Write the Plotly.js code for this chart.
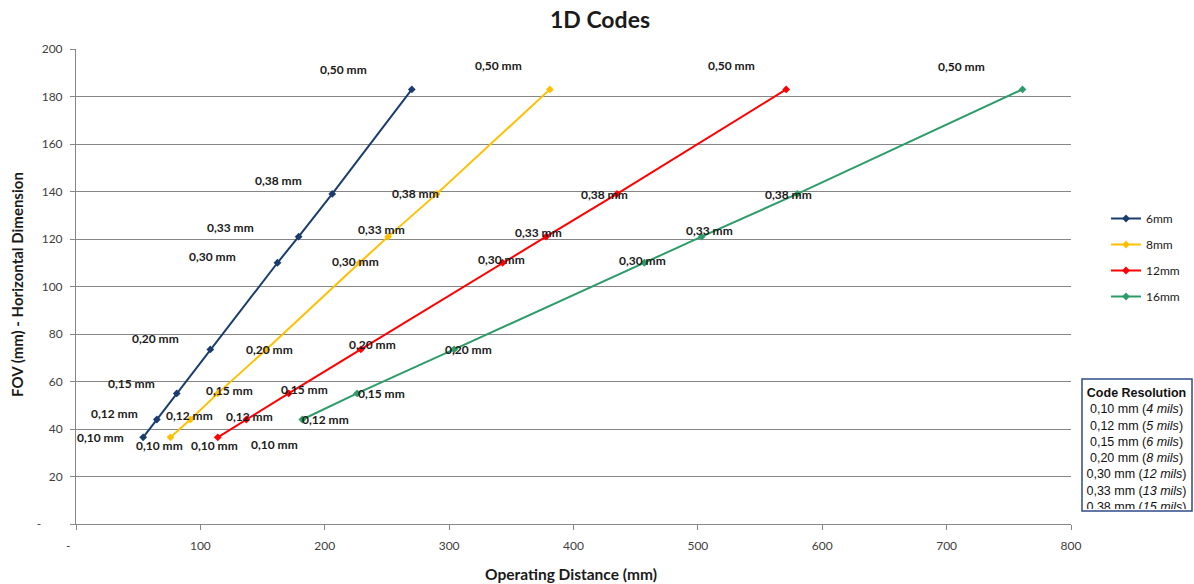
<!DOCTYPE html>
<html>
<head>
<meta charset="utf-8">
<script src="https://cdn.plot.ly/plotly-3.0.1.min.js"></script>
<style>html,body{margin:0;padding:0;background:#fff;}#chart{width:1194px;height:584px;}</style>
</head>
<body>
<div id="chart"></div>
<script>
// ---- data ----
const resolutions = ['0,10 mm','0,12 mm','0,15 mm','0,20 mm','0,30 mm','0,33 mm','0,38 mm','0,50 mm'];
const fov = [36.5, 44, 55, 73.5, 110, 121, 139, 183];
const dist6  = [54, 65, 81, 108, 162, 179, 206, 270];
const dist8  = [76, 92, 114, 153, 228, 251, 290, 381];
const dist12 = [114, 137, 171, 229, 343, 378, 435, 571];
const dist16 = [152, 182, 226, 304, 457, 503, 580, 761];
const seriesNames = ['6mm', '8mm', '12mm', '16mm'];
const xTickVals = [0, 100, 200, 300, 400, 500, 600, 700, 800];
const xTickText = ['-&nbsp;&nbsp;&nbsp;&nbsp;&nbsp;', '100', '200', '300', '400', '500', '600', '700', '800'];
const yTickVals = [0, 20, 40, 60, 80, 100, 120, 140, 160, 180, 200];
const yTickText = ['-&nbsp;&nbsp;&nbsp;&nbsp;&nbsp;&nbsp;&nbsp;', '20', '40', '60', '80', '100', '120', '140', '160', '180', '200'];
const codeResolution = ['0,10 mm (<i>4 mils</i>)', '0,12 mm (<i>5 mils</i>)', '0,15 mm (<i>6 mils</i>)',
  '0,20 mm (<i>8 mils</i>)', '0,30 mm (<i>12 mils</i>)', '0,33 mm (<i>13 mils</i>)', '0,38 mm (<i>15 mils</i>)'];

// ---- styling / placement ----
const colors = ['#1A3D6E', '#FFC000', '#FF0000', '#2E9B6A'];
const firstDrawn = [0, 0, 0, 1]; // 16mm series: the 0,10 mm point is labelled but not drawn
const labelOffsets = [
  [[-43,0],[-42,-6],[-45,-10],[-55,-11],[-65,-6],[-68,-9],[-54,-13],[-68,-20]],
  [[-11,8],[-1,-4],[12,-3],[3,0],[-4,-1],[-7,-7],[-21,0],[-51,-24]],
  [[-3,8],[3,-3],[16,-4],[12,-5],[-1,-3],[-8,-4],[-13,1],[-55,-24]],
  [[9,7],[23,0],[24,0],[14,0],[-2,-2],[8,-6],[-9,1],[-61,-23]]
];
const M = {l: 76, r: 123, t: 49, b: 60, autoexpand: false};
const W = 1194, H = 584;
const pw = W - M.l - M.r, ph = H - M.t - M.b;
const px2x = p => (p - M.l) / pw;
const px2y = p => (H - M.b - p) / ph;

const dists = [dist6, dist8, dist12, dist16];
const traces = dists.map((d, s) => ({
  type: 'scatter', mode: 'lines+markers', name: seriesNames[s],
  x: d.slice(firstDrawn[s]), y: fov.slice(firstDrawn[s]),
  line: {color: colors[s], width: 2},
  marker: {symbol: 'diamond', size: 6, color: colors[s]},
  legendgroup: seriesNames[s],
  hoverinfo: 'x+y+name'
}));

const annotations = [];
dists.forEach((d, s) => {
  d.forEach((xv, i) => {
    annotations.push({
      xref: 'x', yref: 'y', x: xv, y: fov[i], text: resolutions[i],
      showarrow: false, xshift: labelOffsets[s][i][0], yshift: -labelOffsets[s][i][1],
      font: {family: 'Lato, sans-serif', size: 12, color: '#1a1a1a', weight: 'bold'}
    });
  });
});
// axis titles
annotations.push({xref: 'paper', yref: 'paper', x: px2x(571), y: px2y(574), yanchor: 'middle',
  text: '<b>Operating Distance (mm)</b>', showarrow: false,
  font: {family: 'Lato, sans-serif', size: 15.5, color: '#1a1a1a'}});
annotations.push({xref: 'paper', yref: 'paper', x: px2x(17), y: px2y(285), xanchor: 'center', yanchor: 'middle',
  text: '<b>FOV (mm) - Horizontal Dimension</b>', textangle: -90, showarrow: false,
  font: {family: 'Lato, sans-serif', size: 15, color: '#1a1a1a'}});
// code resolution box (text clipped at the box bottom)
annotations.push({xref: 'paper', yref: 'paper', x: px2x(1083), y: px2y(386), xanchor: 'left', yanchor: 'top',
  text: '<b>Code Resolution</b><br>' + codeResolution.join('<br>'), showarrow: false,
  align: 'center', valign: 'top', width: 107, height: 123, borderpad: 0, borderwidth: 0,
  font: {family: 'Liberation Sans, Arial, sans-serif', size: 12.5, color: '#111111'}});

const shapes = [{type: 'rect', xref: 'paper', yref: 'paper', x0: px2x(1082), x1: px2x(1192), y0: px2y(511), y1: px2y(379),
  line: {color: '#2F4A8A', width: 1.5}, fillcolor: 'rgba(0,0,0,0)', layer: 'above'}];

const layout = {
  width: W, height: H, margin: M,
  paper_bgcolor: '#ffffff', plot_bgcolor: '#ffffff',
  title: {text: '<b>1D Codes</b>', x: 600 / W, xref: 'container', xanchor: 'center', y: 1 - 20 / H, yanchor: 'middle',
    font: {family: 'Lato, sans-serif', size: 23, color: '#1a1a1a'}},
  xaxis: {range: [0, 800], tickvals: xTickVals, ticktext: xTickText, showgrid: false, zeroline: false,
    showline: true, linecolor: '#868686', linewidth: 1, ticks: 'outside', ticklen: 5, tickcolor: '#868686',
    ticklabelstandoff: 6, automargin: false,
    tickfont: {family: 'Lato, sans-serif', size: 12, color: '#404040'}},
  yaxis: {range: [0, 200], tickvals: yTickVals, ticktext: yTickText, showgrid: true, gridcolor: '#868686', gridwidth: 1,
    zeroline: false, showline: true, linecolor: '#868686', linewidth: 1, ticks: 'outside', ticklen: 5, tickcolor: '#868686',
    ticklabelstandoff: 5, automargin: false,
    tickfont: {family: 'Lato, sans-serif', size: 12, color: '#404040'}},
  showlegend: true,
  legend: {x: px2x(1106), y: px2y(204), xanchor: 'left', yanchor: 'top', traceorder: 'grouped', tracegroupgap: 7,
    bgcolor: 'rgba(0,0,0,0)', font: {family: 'Lato, sans-serif', size: 12, color: '#1a1a1a'}},
  shapes: shapes,
  annotations: annotations
};

Plotly.newPlot('chart', traces, layout, {displayModeBar: false, staticPlot: true});
</script>
</body>
</html>
